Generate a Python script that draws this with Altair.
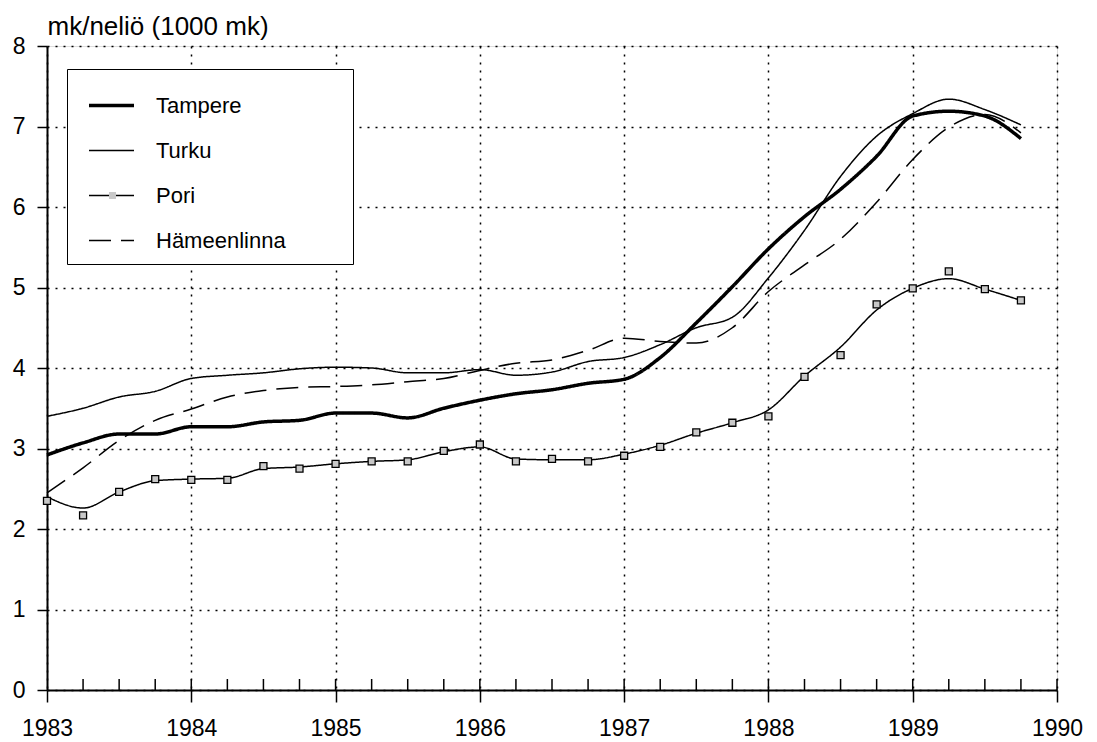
import altair as alt
import pandas as pd

FONT = "Liberation Sans"

cities = ["Tampere", "Turku", "Pori", "Hämeenlinna"]

quarters = [1983.0, 1983.25, 1983.5, 1983.75, 1984.0, 1984.25, 1984.5, 1984.75,
            1985.0, 1985.25, 1985.5, 1985.75, 1986.0, 1986.25, 1986.5, 1986.75,
            1987.0, 1987.25, 1987.5, 1987.75, 1988.0, 1988.25, 1988.5, 1988.75,
            1989.0, 1989.25, 1989.5, 1989.75]

tampere = [2.92, 3.07, 3.18, 3.18, 3.27, 3.27, 3.33, 3.35, 3.44, 3.44, 3.38, 3.50,
           3.60, 3.68, 3.73, 3.81, 3.86, 4.13, 4.56, 5.01, 5.48, 5.88, 6.22, 6.63,
           7.13, 7.19, 7.13, 6.85]
turku = [3.40, 3.50, 3.64, 3.71, 3.87, 3.91, 3.94, 3.99, 4.01, 4.00, 3.94, 3.94,
         3.98, 3.91, 3.95, 4.08, 4.13, 4.29, 4.50, 4.63, 5.12, 5.71, 6.38, 6.88,
         7.16, 7.34, 7.21, 7.02]
hameenlinna = [2.45, 2.76, 3.10, 3.35, 3.49, 3.64, 3.72, 3.76, 3.77, 3.79, 3.83, 3.87,
               3.97, 4.06, 4.10, 4.22, 4.37, 4.33, 4.31, 4.50, 4.95, 5.28, 5.60, 6.06,
               6.59, 6.99, 7.15, 6.92]
pori_curve = [2.40, 2.26, 2.46, 2.60, 2.62, 2.63, 2.75, 2.77, 2.81, 2.84, 2.86, 2.96,
              3.02, 2.87, 2.86, 2.86, 2.93, 3.04, 3.19, 3.32, 3.48, 3.90, 4.26, 4.72,
              4.99, 5.11, 4.98, 4.84]
pori_points = [2.35, 2.17, 2.46, 2.62, 2.61, 2.61, 2.78, 2.75, 2.81, 2.84, 2.84, 2.97,
               3.05, 2.84, 2.87, 2.84, 2.91, 3.02, 3.20, 3.32, 3.40, 3.89, 4.16, 4.79,
               4.99, 5.20, 4.98, 4.84]

years = [1983, 1984, 1985, 1986, 1987, 1988, 1989, 1990]
y_ticks = [0, 1, 2, 3, 4, 5, 6, 7, 8]
minor_ticks = [1983.25, 1983.5, 1983.75, 1984.0, 1984.25, 1984.5, 1984.75, 1985.0,
               1985.25, 1985.5, 1985.75, 1986.0, 1986.25, 1986.5, 1986.75, 1987.0,
               1987.25, 1987.5, 1987.75, 1988.0, 1988.25, 1988.5, 1988.75, 1989.0,
               1989.25, 1989.5, 1989.75, 1990.0]

W, H = 1010, 644
# trailing spaces kept from trimming by a zero-width space, to widen the legend box
PAD = " " * 9 + "\u200b"

rows = []
for c, vals in (("Tampere", tampere), ("Turku", turku), ("Pori", pori_curve),
                ("Hämeenlinna", hameenlinna)):
    for t, v in zip(quarters, vals):
        rows.append({"city": c, "t": t, "v": v})
lines_df = pd.DataFrame(rows)
markers_df = pd.DataFrame({"city": ["Pori"] * len(quarters), "t": quarters, "v": pori_points})
ticks_df = pd.DataFrame({"t": minor_ticks})

x_scale = alt.Scale(domain=[1983, 1990], nice=False, zero=False)
y_scale = alt.Scale(domain=[0, 8], nice=False)

x_axis = alt.Axis(values=years, format="d", title=None, grid=True, gridDash=[2, 6],
                  gridColor="black", gridWidth=1.5, gridOpacity=1, tickSize=12,
                  tickWidth=1.5, tickColor="black", domainColor="black", domainWidth=2,
                  labelFontSize=23, labelFont=FONT, labelColor="black", labelPadding=15,
                  labelFlush=False, labelOverlap=False)
y_axis = alt.Axis(values=y_ticks, format="d", title="mk/neliö (1000 mk)", titleAngle=0,
                  titleAlign="left", titleBaseline="alphabetic", titleX=0, titleY=-12,
                  titleFontSize=26, titleFont=FONT, titleFontWeight="normal",
                  titleColor="black", grid=True, gridDash=[2, 6], gridColor="black",
                  gridWidth=1.5, gridOpacity=1, tickSize=10, tickWidth=1.5,
                  tickColor="black", domainColor="black", domainWidth=2,
                  labelFontSize=23, labelFont=FONT, labelColor="black", labelPadding=12,
                  labelFlush=False, labelOverlap=False)

line_legend = alt.Legend(title=None, orient="none", legendX=20, legendY=23,
                         direction="vertical", symbolType="stroke", symbolSize=2025,
                         symbolStrokeColor="black", symbolOffset=8, labelFontSize=22,
                         labelFont=FONT, labelColor="black", labelOffset=20,
                         labelLimit=400, labelExpr="datum.label + '" + PAD + "'",
                         padding=12, rowPadding=10, fillColor="white",
                         strokeColor="black", zindex=1)

lines = alt.Chart(lines_df).mark_line(interpolate="monotone", color="black").encode(
    x=alt.X("t:Q", scale=x_scale, axis=x_axis),
    y=alt.Y("v:Q", scale=y_scale, axis=y_axis),
    strokeWidth=alt.StrokeWidth("city:N", scale=alt.Scale(type="ordinal", domain=cities,
                                                          range=[3.5, 1.5, 1.5, 1.5]),
                                legend=line_legend),
    strokeDash=alt.StrokeDash("city:N", scale=alt.Scale(domain=cities,
                                                        range=[[1, 0], [1, 0], [1, 0], [22, 10]]),
                              legend=line_legend),
)

marker_legend = alt.Legend(title=None, orient="none", legendX=61, legendY=145,
                           labelExpr="''", labelFontSize=1, symbolSize=49,
                           symbolFillColor="#c8c8c8", symbolStrokeColor="black",
                           symbolStrokeWidth=1.3, padding=0, zindex=2)

points = alt.Chart(markers_df).mark_point(filled=True, size=49, fill="#c8c8c8",
                                          stroke="black", strokeWidth=1.3, opacity=1).encode(
    x=alt.X("t:Q", scale=x_scale),
    y=alt.Y("v:Q", scale=y_scale),
    shape=alt.Shape("city:N", scale=alt.Scale(domain=["Pori"], range=["square"]),
                    legend=marker_legend),
)

ticks = alt.Chart(ticks_df).mark_rule(color="black", strokeWidth=1.5).encode(
    x=alt.X("t:Q", scale=x_scale),
    y=alt.value(H),
    y2=alt.value(H - 11),
)

chart = alt.layer(lines, points, ticks).properties(
    width=W, height=H,
    padding={"left": 39, "top": 38, "right": 30, "bottom": 52},
    autosize=alt.AutoSizeParams(type="none"),
).configure_view(stroke=None).configure(background="white")

chart.save("out.html", embed_options={"renderer": "svg", "actions": False})
